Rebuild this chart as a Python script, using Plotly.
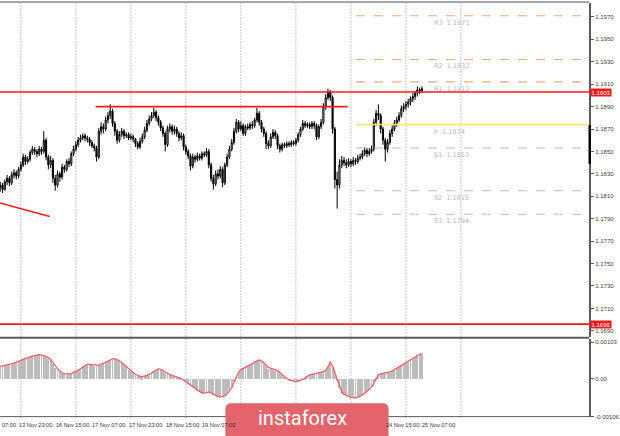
import plotly.graph_objects as go

W, H = 620, 436

# ---------------- data ----------------
bar_index = list(range(185))

opens = [1.1818,1.1820,1.1816,1.1823,1.1826,1.1822,1.1829,1.1831,1.1828,1.1834,
 1.1838,1.1845,1.1841,1.1843,1.1849,1.1852,1.1850,1.1848,1.1852,1.1850,
 1.1860,1.1845,1.1838,1.1842,1.1826,1.1820,1.1830,1.1827,1.1836,1.1834,
 1.1841,1.1839,1.1848,1.1852,1.1856,1.1860,1.1862,1.1864,1.1862,1.1861,
 1.1858,1.1855,1.1853,1.1845,1.1868,1.1872,1.1870,1.1878,1.1882,1.1886,
 1.1875,1.1868,1.1860,1.1865,1.1868,1.1864,1.1865,1.1862,1.1863,1.1861,
 1.1857,1.1854,1.1859,1.1863,1.1869,1.1875,1.1879,1.1882,1.1885,1.1880,
 1.1876,1.1871,1.1866,1.1856,1.1870,1.1872,1.1868,1.1870,1.1866,1.1862,
 1.1864,1.1854,1.1850,1.1846,1.1837,1.1845,1.1843,1.1846,1.1844,1.1848,
 1.1847,1.1850,1.1838,1.1826,1.1821,1.1830,1.1828,1.1834,1.1822,1.1838,
 1.1845,1.1852,1.1858,1.1868,1.1876,1.1870,1.1873,1.1866,1.1872,1.1871,
 1.1874,1.1873,1.1878,1.1884,1.1876,1.1870,1.1866,1.1857,1.1855,1.1863,
 1.1867,1.1864,1.1855,1.1852,1.1856,1.1855,1.1857,1.1856,1.1858,1.1857,
 1.1860,1.1865,1.1870,1.1875,1.1873,1.1874,1.1872,1.1875,1.1873,1.1863,
 1.1872,1.1876,1.1890,1.1898,1.1903,1.1898,1.1870,1.1825,1.1820,1.1838,
 1.1842,1.1840,1.1838,1.1841,1.1839,1.1842,1.1841,1.1844,1.1845,1.1848,
 1.1851,1.1848,1.1850,1.1852,1.1876,1.1884,1.1882,1.1870,1.1860,1.1852,
 1.1858,1.1866,1.1870,1.1875,1.1878,1.1882,1.1888,1.1890,1.1892,1.1894,
 1.1897,1.1899,1.1902,1.1905,1.1904]

highs = [1.1823,1.1822,1.1825,1.1829,1.1828,1.1832,1.1834,1.1833,1.1836,1.1841,
 1.1848,1.1847,1.1846,1.1851,1.1855,1.1854,1.1852,1.1855,1.1854,1.1868,
 1.1862,1.1847,1.1846,1.1844,1.1829,1.1833,1.1832,1.1839,1.1838,1.1843,
 1.1844,1.1850,1.1855,1.1859,1.1863,1.1865,1.1866,1.1866,1.1864,1.1863,
 1.1860,1.1857,1.1855,1.1871,1.1876,1.1875,1.1881,1.1885,1.1892,1.1888,
 1.1877,1.1870,1.1868,1.1871,1.1870,1.1867,1.1867,1.1866,1.1865,1.1862,
 1.1859,1.1862,1.1866,1.1872,1.1878,1.1882,1.1885,1.1889,1.1887,1.1882,
 1.1878,1.1873,1.1868,1.1873,1.1875,1.1874,1.1873,1.1872,1.1868,1.1867,
 1.1866,1.1856,1.1852,1.1848,1.1848,1.1847,1.1849,1.1848,1.1850,1.1850,
 1.1853,1.1852,1.1840,1.1829,1.1833,1.1834,1.1837,1.1836,1.1840,1.1848,
 1.1855,1.1861,1.1871,1.1879,1.1878,1.1877,1.1875,1.1874,1.1875,1.1876,
 1.1877,1.1880,1.1889,1.1886,1.1878,1.1872,1.1868,1.1860,1.1866,1.1870,
 1.1869,1.1866,1.1857,1.1858,1.1858,1.1859,1.1859,1.1860,1.1860,1.1862,
 1.1867,1.1872,1.1878,1.1877,1.1876,1.1876,1.1877,1.1877,1.1875,1.1874,
 1.1879,1.1893,1.1901,1.1906,1.1905,1.1900,1.1872,1.1832,1.1843,1.1846,
 1.1845,1.1843,1.1844,1.1843,1.1845,1.1844,1.1847,1.1848,1.1851,1.1854,
 1.1853,1.1853,1.1855,1.1879,1.1887,1.1892,1.1884,1.1872,1.1862,1.1861,
 1.1869,1.1873,1.1878,1.1881,1.1885,1.1891,1.1893,1.1895,1.1897,1.1899,
 1.1902,1.1904,1.1908,1.1907,1.1908]

lows = [1.1814,1.1813,1.1815,1.1820,1.1819,1.1820,1.1826,1.1825,1.1826,1.1832,
 1.1836,1.1838,1.1839,1.1841,1.1847,1.1847,1.1845,1.1846,1.1847,1.1848,
 1.1842,1.1834,1.1835,1.1822,1.1815,1.1818,1.1823,1.1825,1.1831,1.1832,
 1.1836,1.1837,1.1846,1.1850,1.1854,1.1858,1.1860,1.1859,1.1858,1.1855,
 1.1853,1.1850,1.1841,1.1843,1.1865,1.1866,1.1868,1.1875,1.1879,1.1872,
 1.1864,1.1857,1.1858,1.1863,1.1861,1.1862,1.1860,1.1860,1.1858,1.1854,
 1.1852,1.1852,1.1857,1.1861,1.1867,1.1873,1.1877,1.1880,1.1877,1.1873,
 1.1868,1.1863,1.1850,1.1854,1.1867,1.1865,1.1865,1.1863,1.1859,1.1860,
 1.1851,1.1847,1.1843,1.1833,1.1835,1.1840,1.1841,1.1842,1.1842,1.1845,
 1.1845,1.1835,1.1823,1.1816,1.1819,1.1825,1.1826,1.1818,1.1820,1.1836,
 1.1843,1.1850,1.1856,1.1866,1.1867,1.1868,1.1864,1.1864,1.1869,1.1869,
 1.1870,1.1871,1.1876,1.1873,1.1867,1.1863,1.1852,1.1852,1.1853,1.1861,
 1.1861,1.1852,1.1849,1.1850,1.1853,1.1853,1.1854,1.1854,1.1855,1.1855,
 1.1858,1.1863,1.1868,1.1871,1.1871,1.1870,1.1870,1.1870,1.1860,1.1861,
 1.1870,1.1874,1.1887,1.1896,1.1895,1.1866,1.1817,1.1799,1.1817,1.1835,
 1.1837,1.1835,1.1836,1.1836,1.1837,1.1838,1.1839,1.1842,1.1843,1.1846,
 1.1845,1.1846,1.1848,1.1850,1.1873,1.1878,1.1866,1.1856,1.1841,1.1849,
 1.1856,1.1863,1.1868,1.1872,1.1876,1.1880,1.1885,1.1887,1.1889,1.1891,
 1.1894,1.1896,1.1899,1.1901,1.1902]

closes = [1.1820,1.1816,1.1823,1.1826,1.1822,1.1829,1.1831,1.1828,1.1834,1.1838,
 1.1845,1.1841,1.1843,1.1849,1.1852,1.1850,1.1848,1.1852,1.1850,1.1860,
 1.1845,1.1838,1.1842,1.1826,1.1820,1.1830,1.1827,1.1836,1.1834,1.1841,
 1.1839,1.1848,1.1852,1.1856,1.1860,1.1862,1.1864,1.1862,1.1861,1.1858,
 1.1855,1.1853,1.1845,1.1868,1.1872,1.1870,1.1878,1.1882,1.1886,1.1875,
 1.1868,1.1860,1.1865,1.1868,1.1864,1.1865,1.1862,1.1863,1.1861,1.1857,
 1.1854,1.1859,1.1863,1.1869,1.1875,1.1879,1.1882,1.1885,1.1880,1.1876,
 1.1871,1.1866,1.1856,1.1870,1.1872,1.1868,1.1870,1.1866,1.1862,1.1864,
 1.1854,1.1850,1.1846,1.1837,1.1845,1.1843,1.1846,1.1844,1.1848,1.1847,
 1.1850,1.1838,1.1826,1.1821,1.1830,1.1828,1.1834,1.1822,1.1838,1.1845,
 1.1852,1.1858,1.1868,1.1876,1.1870,1.1873,1.1866,1.1872,1.1871,1.1874,
 1.1873,1.1878,1.1884,1.1876,1.1870,1.1866,1.1857,1.1855,1.1863,1.1867,
 1.1864,1.1855,1.1852,1.1856,1.1855,1.1857,1.1856,1.1858,1.1857,1.1860,
 1.1865,1.1870,1.1875,1.1873,1.1874,1.1872,1.1875,1.1873,1.1863,1.1872,
 1.1876,1.1890,1.1898,1.1903,1.1898,1.1870,1.1825,1.1820,1.1838,1.1842,
 1.1840,1.1838,1.1841,1.1839,1.1842,1.1841,1.1844,1.1845,1.1848,1.1851,
 1.1848,1.1850,1.1852,1.1876,1.1884,1.1882,1.1870,1.1860,1.1852,1.1858,
 1.1866,1.1870,1.1875,1.1878,1.1882,1.1888,1.1890,1.1892,1.1894,1.1897,
 1.1899,1.1902,1.1905,1.1904,1.1906]

# MACD values in units of 1e-5
macd_main = [36,37,38,39,41,43,45,47,50,53,
 56,59,61,63,65,67,68,68,67,66,
 62,58,54,43,32,26,20,15,14,14,
 14,16,19,22,24,29,34,38,42,41,
 39,37,36,39,42,45,48,51,54,57,
 56,53,50,45,39,33,27,22,17,12,
 8,6,5,8,11,14,18,22,26,29,
 26,22,18,14,12,10,8,6,5,0,
 -5,-9,-14,-18,-23,-27,-32,-36,-41,-40,
 -38,-36,-40,-44,-48,-51,-51,-50,-48,-40,
 -31,-23,-8,7,23,27,30,33,36,40,
 44,48,51,54,51,45,38,30,30,27,
 24,23,17,11,6,0,-3,-5,-7,-9,
 -6,-3,0,4,9,12,14,16,18,19,
 20,21,26,38,50,35,15,-5,-25,-41,
 -45,-48,-51,-53,-54,-53,-51,-48,-45,-40,
 -34,-28,-23,-10,2,14,15,16,17,18,
 18,22,27,31,35,38,42,45,49,53,
 58,63,67,70,72]

macd_signal = [35,36,37,38,40,42,44,46,49,52,
 55,58,60,62,64,66,67,68,67,66,
 63,59,55,46,36,28,22,17,15,14,
 14,15,18,21,23,28,33,37,41,41,
 40,38,37,38,41,44,47,50,53,56,
 56,54,51,46,40,34,28,23,18,13,
 9,7,6,7,10,13,17,21,25,28,
 27,23,19,15,12,10,8,6,5,1,
 -4,-8,-13,-17,-22,-26,-31,-35,-39,-40,
 -38,-37,-39,-43,-47,-50,-51,-50,-48,-42,
 -33,-25,-11,4,19,26,29,32,35,39,
 43,47,50,53,51,46,39,32,30,27,
 25,23,18,12,7,1,-2,-5,-7,-8,
 -7,-4,-1,3,8,11,13,15,17,18,
 19,20,24,34,46,37,18,-1,-21,-37,
 -43,-47,-50,-52,-53,-53,-51,-49,-45,-41,
 -35,-29,-24,-12,0,11,14,15,16,17,
 18,21,26,30,34,37,41,44,48,52,
 57,62,66,69,71]

price_ticks = [1.1970,1.1950,1.1930,1.1910,1.1890,1.1870,1.1850,1.1830,
               1.1810,1.1790,1.1770,1.1750,1.1730,1.1710,1.1690]
macd_ticks = [0.00103, 0.0, -0.00106]
macd_tick_text = ["0.00103", "0.00", "-0.00106"]

# first label is only partly visible at the left edge in the reference
time_labels = ["07:00","13 Nov 23:00","16 Nov 15:00","17 Nov 07:00",
               "17 Nov 23:00","18 Nov 15:00","19 Nov 07:00","24 Nov 15:00",
               "25 Nov 07:00"]
time_label_bars = [-2.6, 8, 24, 40, 56, 72, 88, 168, 184]
day_grid_bars = [9, 33, 57, 81, 105, 129, 153, 177, 201]

red_levels = [1.1903, 1.1696]
resistance_line = (1.1890, 41.6, 151.6)          # level, from bar, to bar
trend_line = ((-1, 1.18045), (21.6, 1.1792))      # (bar, price) endpoints

pivot_names = ["R3", "R2", "R1", "P", "S1", "S2", "S3"]
pivot_values = [1.1971, 1.1932, 1.1912, 1.1874, 1.1853, 1.1815, 1.1794]
pivot_start_bar = 155.2
pivot_label_bar = 188.2

# ---------------- layout geometry (pixels) ----------------
PLOT_RIGHT = 596
MAIN_TOP, MAIN_BOT = 3, 339
MACD_TOP, MACD_BOT = 341, 419.5
X_RANGE = [-0.1, 257.0]
Y_RANGE = [1.16848, 1.19824]
M_RANGE = [-0.00106, 0.00113]


def px(x):
    return x / W


def py(y):
    return 1 - y / H


fig = go.Figure()

fig.add_trace(go.Candlestick(
    x=bar_index, open=opens, high=highs, low=lows, close=closes,
    increasing=dict(line=dict(color="#000000", width=1), fillcolor="#ffffff"),
    decreasing=dict(line=dict(color="#000000", width=1), fillcolor="#000000"),
    whiskerwidth=0, showlegend=False, hoverinfo="skip",
    xaxis="x", yaxis="y",
))

fig.add_trace(go.Bar(
    x=bar_index, y=[v * 1e-5 for v in macd_main],
    marker=dict(color="#bcbcbc", line=dict(width=0)), width=0.4,
    showlegend=False, hoverinfo="skip", xaxis="x2", yaxis="y2",
))
fig.add_trace(go.Scatter(
    x=bar_index, y=[v * 1e-5 for v in macd_signal], mode="lines",
    line=dict(color="#f0606a", width=1.3), showlegend=False,
    hoverinfo="skip", xaxis="x2", yaxis="y2",
))

shapes = []
annotations = []

# vertical dotted day separators
for b in day_grid_bars:
    shapes.append(dict(type="line", xref="x", yref="paper", x0=b, x1=b,
                       y0=py(MACD_BOT + 1), y1=py(MAIN_TOP),
                       line=dict(color="#8c8c8c", width=1, dash="1px,2px"),
                       layer="below"))

# horizontal red levels
for lv in red_levels:
    shapes.append(dict(type="line", xref="paper", yref="y", x0=0, x1=px(PLOT_RIGHT),
                       y0=lv, y1=lv, line=dict(color="#ff1a1a", width=1.6)))
    annotations.append(dict(xref="paper", yref="y", x=px(PLOT_RIGHT + 0.5), y=lv,
                            xanchor="left", yanchor="middle", showarrow=False,
                            text=f"{lv:.4f}", bgcolor="#ff1a1a", borderpad=0.5,
                            font=dict(color="#ffffff", size=6, family="Liberation Sans")))

lv, b0, b1 = resistance_line
shapes.append(dict(type="line", xref="x", yref="y", x0=b0, x1=b1, y0=lv, y1=lv,
                   line=dict(color="#ff1a1a", width=1.6)))
(tb0, tp0), (tb1, tp1) = trend_line
shapes.append(dict(type="line", xref="x", yref="y", x0=tb0, x1=tb1, y0=tp0, y1=tp1,
                   line=dict(color="#ff1a1a", width=1.6)))

# pivot levels
for name, val in zip(pivot_names, pivot_values):
    if name == "P":
        ln = dict(color="#f7e85a", width=1.5)
    elif name.startswith("R"):
        ln = dict(color="#f7a878", width=1.2, dash="dash")
    else:
        ln = dict(color="#e2b0b0", width=1.1, dash="dash")
    shapes.append(dict(type="line", xref="x", yref="y", x0=pivot_start_bar,
                       x1=X_RANGE[1], y0=val, y1=val, line=ln))
    annotations.append(dict(xref="x", yref="y", x=pivot_label_bar, y=val,
                            xanchor="left", yanchor="top", yshift=-1, showarrow=False,
                            text=f"{name}&nbsp;&nbsp;{val:.4f}",
                            font=dict(color="#b8b8b8", size=6.5, family="DejaVu Sans")))

# frame lines
shapes.append(dict(type="line", xref="paper", yref="paper", x0=0, x1=px(PLOT_RIGHT),
                   y0=py(2), y1=py(2), line=dict(color="#8a8a8a", width=1.5)))
shapes.append(dict(type="line", xref="paper", yref="paper", x0=0, x1=px(PLOT_RIGHT),
                   y0=py(340), y1=py(340), line=dict(color="#5a5a5a", width=2)))
shapes.append(dict(type="line", xref="paper", yref="paper", x0=0, x1=px(PLOT_RIGHT),
                   y0=py(MACD_BOT), y1=py(MACD_BOT), line=dict(color="#5a5a5a", width=1)))
shapes.append(dict(type="line", xref="paper", yref="paper", x0=px(PLOT_RIGHT + 0.5),
                   x1=px(PLOT_RIGHT + 0.5), y0=py(126), y1=py(165),
                   line=dict(color="#000000", width=2.5)))

# time labels (bar centre -> pixel)
bar_px = (PLOT_RIGHT) / (X_RANGE[1] - X_RANGE[0])
for lab, b in zip(time_labels, time_label_bars):
    xpix = max((b - X_RANGE[0]) * bar_px - 1.5, 0.5)
    annotations.append(dict(xref="paper", yref="paper", x=px(xpix), y=py(428),
                            xanchor="left", yanchor="middle", showarrow=False,
                            text=lab, font=dict(color="#333333", size=5.6,
                                                family="Liberation Sans")))

# instaforex logo
r = 6
x0, x1, y0, y1 = 228, 393, 406, 440
path = (f"M {px(x0)},{py(y1)} L {px(x0)},{py(y0 + r)} "
        f"Q {px(x0)},{py(y0)} {px(x0 + r)},{py(y0)} L {px(x1 - r)},{py(y0)} "
        f"Q {px(x1)},{py(y0)} {px(x1)},{py(y0 + r)} L {px(x1)},{py(y1)} Z")
shapes.append(dict(type="path", xref="paper", yref="paper", path=path,
                   fillcolor="#e4646c", line=dict(width=0), layer="above"))
annotations.append(dict(xref="paper", yref="paper", x=px(306), y=py(421),
                        xanchor="center", yanchor="middle", showarrow=False,
                        text="instaforex",
                        font=dict(color="#ffffff", size=20, family="Roboto")))

axis_font = dict(color="#404040", size=6, family="Liberation Sans")

fig.update_layout(
    width=W, height=H, margin=dict(l=0, r=0, t=0, b=0),
    paper_bgcolor="#ffffff", plot_bgcolor="#ffffff",
    showlegend=False, bargap=0,
    xaxis=dict(domain=[0, px(PLOT_RIGHT)], range=X_RANGE, anchor="y",
               showticklabels=False, showgrid=False, zeroline=False,
               showline=False, rangeslider=dict(visible=False), ticks=""),
    xaxis2=dict(domain=[0, px(PLOT_RIGHT)], range=X_RANGE, anchor="y2",
                matches="x", showticklabels=False, showgrid=False,
                zeroline=False, showline=False, ticks=""),
    yaxis=dict(domain=[py(MAIN_BOT), py(MAIN_TOP)], range=Y_RANGE, side="right",
               anchor="x", tickvals=price_ticks,
               ticktext=[f"{v:.4f}" for v in price_ticks],
               showgrid=False, zeroline=False, showline=True,
               linecolor="#5a5a5a", linewidth=1.5, ticks="outside", ticklen=3,
               tickcolor="#5a5a5a", tickfont=axis_font),
    yaxis2=dict(domain=[py(MACD_BOT), py(MACD_TOP)], range=M_RANGE, side="right",
                anchor="x2", tickvals=macd_ticks, ticktext=macd_tick_text,
                showgrid=False, zeroline=False, showline=True,
                linecolor="#5a5a5a", linewidth=1.5, ticks="outside", ticklen=3,
                tickcolor="#5a5a5a", tickfont=axis_font),
    shapes=shapes, annotations=annotations,
)

fig.write_html("out.html", config={"displayModeBar": False},
               post_script="document.body.style.margin='0';")
